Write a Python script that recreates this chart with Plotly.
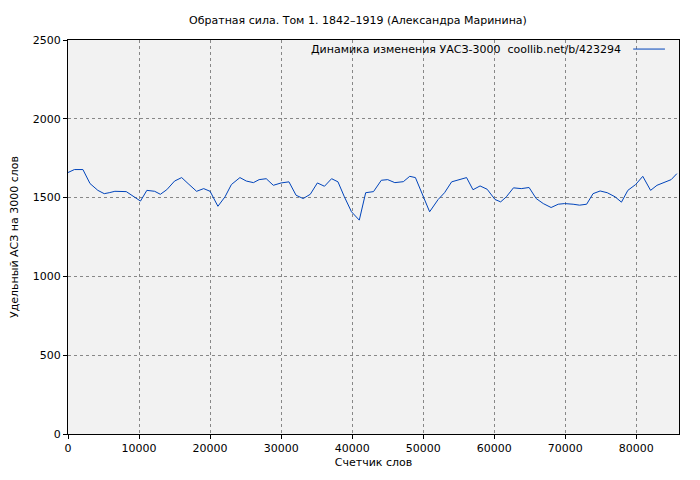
import plotly.graph_objects as go

words = [0,900,2100,3100,4200,5100,5800,6600,8200,9100,10200,11100,12200,13000,13900,15000,16000,16900,18100,19100,20000,21100,22100,23000,24200,25100,26100,26900,27900,28900,30000,31100,32100,33100,34100,35100,36100,37100,38000,38900,39900,41000,41900,43000,44100,45000,46000,47200,48100,48900,50000,50900,52100,53000,54000,55000,56100,57000,58000,59000,60100,60900,61700,62700,63800,64900,65900,66900,68000,69000,69900,71100,72000,73000,73900,74900,75900,77000,77900,78800,79900,80900,82000,82900,84000,84900,85700]
values = [1659,1678,1678,1589,1546,1525,1531,1540,1538,1509,1478,1546,1540,1521,1550,1605,1627,1589,1540,1557,1540,1445,1505,1583,1627,1605,1595,1614,1620,1578,1593,1600,1515,1494,1521,1593,1572,1620,1600,1505,1410,1357,1531,1538,1610,1614,1595,1601,1635,1627,1505,1410,1488,1531,1600,1614,1627,1550,1574,1553,1488,1473,1505,1562,1557,1564,1494,1462,1437,1458,1462,1458,1452,1458,1525,1542,1531,1505,1471,1546,1583,1635,1546,1578,1600,1614,1652]
legend_text = "Динамика изменения УАСЗ-3000  coollib.net/b/423294"

fig = go.Figure(go.Scatter(x=words, y=values, mode="lines",
    line=dict(color="#0044bb", width=1), showlegend=False))

ax = dict(showline=True, linecolor="black", linewidth=1, mirror=True,
          showgrid=True, gridcolor="#888888", griddash="dot", gridwidth=1,
          ticks="outside", ticklen=4, tickcolor="black", zeroline=False,
          automargin=False, tickformat="d", tickfont=dict(size=11))
fig.update_layout(
    width=700, height=480, paper_bgcolor="white", plot_bgcolor="#f2f2f2",
    margin=dict(l=60, r=29, t=32, b=54),
    font=dict(family="DejaVu Sans", size=11, color="black"),
    title=dict(text="Обратная сила. Том 1. 1842–1919 (Александра Маринина)",
               x=0.5, xanchor="center", y=0.982, font=dict(size=11), automargin=False),
    xaxis=dict(ax, range=[0, 86000], dtick=10000, title=dict(text="Счетчик слов", standoff=4, font=dict(size=11))),
    yaxis=dict(ax, range=[0, 2500], dtick=500, title=dict(text="Удельный АСЗ на 3000 слов", standoff=14, font=dict(size=11))),
    showlegend=False,
)
fig.add_annotation(xref="paper", yref="paper", x=0.908, y=0.977, xanchor="right", yanchor="middle",
                   text=legend_text, showarrow=False, font=dict(size=11))
fig.add_shape(type="line", xref="paper", yref="paper", x0=0.925, x1=0.977, y0=0.977, y1=0.977,
              line=dict(color="#0044bb", width=1))
fig.write_html("out.html")
